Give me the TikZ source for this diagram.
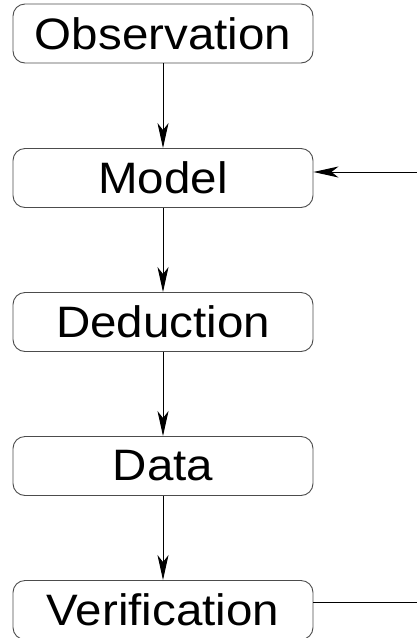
\documentclass[tikz,border=0pt]{standalone}
\usepackage{fontspec}
\setmainfont{Liberation Sans}
\usetikzlibrary{arrows.meta}
\begin{document}
\begin{tikzpicture}[x=1pt,y=-1pt,
  box/.style={draw=black!70, line width=0.9pt, rounded corners=12pt,
    minimum width=300pt, minimum height=59pt, inner sep=0pt,
    font=\fontsize{44}{44}\selectfont},
  conn/.style={draw=black, line width=1pt,
    -{Stealth[length=25pt,width=11pt,inset=7pt]}},
  plain/.style={draw=black, line width=1pt}]
\useasboundingbox (0,0) rectangle (417,638);
\clip (0,0) rectangle (417,638);
\node[box] (obs) at (163,33.5) {\scalebox{1.08}[1]{Observation}};
\node[box] (mod) at (163,178) {\scalebox{1.08}[1]{Model}};
\node[box] (ded) at (163,322) {\scalebox{1.08}[1]{Deduction}};
\node[box] (dat) at (163,466) {\scalebox{1.08}[1]{Data}};
\node[box] (ver) at (163,610) {\scalebox{1.08}[1]{Verification}};
\coordinate (loopA) at (440,602);
\coordinate (loopB) at (440,172);
\draw[conn] (obs) -- (mod);
\draw[conn] (mod) -- (ded);
\draw[conn] (ded) -- (dat);
\draw[conn] (dat) -- (ver);
\draw[conn] (ver.east |- loopA) -- (loopA) -- (loopB) -- (mod.east |- loopB);
\end{tikzpicture}
\end{document}
